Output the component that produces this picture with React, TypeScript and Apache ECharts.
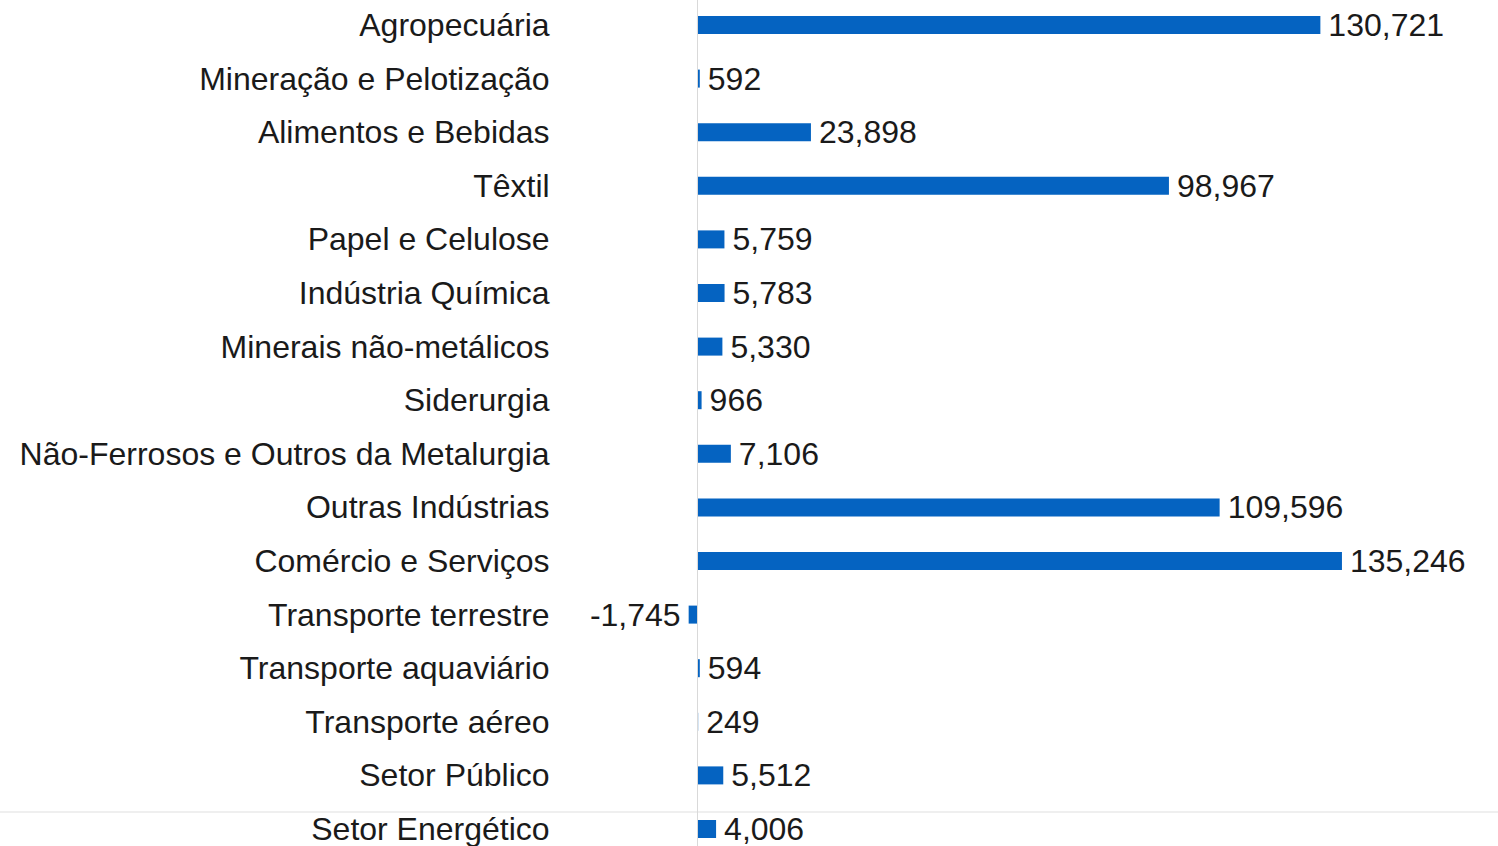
import React, { useEffect, useRef } from "react";
import * as echarts from "echarts";

const categories = [
  "Agropecuária",
  "Mineração e Pelotização",
  "Alimentos e Bebidas",
  "Têxtil",
  "Papel e Celulose",
  "Indústria Química",
  "Minerais não-metálicos",
  "Siderurgia",
  "Não-Ferrosos e Outros da Metalurgia",
  "Outras Indústrias",
  "Comércio e Serviços",
  "Transporte terrestre",
  "Transporte aquaviário",
  "Transporte aéreo",
  "Setor Público",
  "Setor Energético",
];

const values = [
  130721, 592, 23898, 98967, 5759, 5783, 5330, 966, 7106, 109596, 135246, -1745,
  594, 249, 5512, 4006,
];

const FONT = "'Liberation Sans', Arial, sans-serif";

export default function App() {
  const ref = useRef<HTMLDivElement>(null);
  useEffect(() => {
    if (!ref.current) return;
    const chart = echarts.init(ref.current, undefined, { renderer: "svg" });
    const offset = 10;
    chart.setOption({
      animation: false,
      grid: {
        left: 601.6,
        right: 38,
        top: -1.8 + offset,
        height: 53.6 * categories.length,
        containLabel: false,
      },
      xAxis: {
        type: "value",
        min: -20000,
        max: 160000,
        show: false,
        splitLine: { show: false },
      },
      yAxis: {
        type: "category",
        data: categories,
        inverse: true,
        axisLine: { show: false },
        axisTick: { show: false },
        axisLabel: {
          margin: 52,
          fontSize: 32,
          fontFamily: FONT,
          color: "#1a1a1a",
        },
      },
      graphic: [
        {
          type: "line",
          shape: { x1: 0, y1: 812 + offset, x2: 1498, y2: 812 + offset },
          style: { stroke: "#efefef", lineWidth: 2 },
          z: 0,
        },
      ],
      series: [
        {
          type: "bar",
          data: values.map((v) =>
            v < 0 ? { value: v, label: { position: "left" } } : { value: v }
          ),
          barWidth: 18,
          itemStyle: { color: "#0563C1" },
          label: {
            show: true,
            position: "right",
            distance: 8,
            fontSize: 32,
            fontFamily: FONT,
            color: "#1a1a1a",
            formatter: (p: any) => Number(p.value).toLocaleString("en-US"),
          },
          markLine: {
            silent: true,
            symbol: "none",
            label: { show: false },
            lineStyle: { color: "#d9d9d9", width: 1, type: "solid" },
            data: [{ xAxis: 0 }],
          },
        },
      ],
    });
    return () => chart.dispose();
  }, []);
  return (
    <div
      style={{
        position: "fixed",
        left: 0,
        top: 0,
        width: 1498,
        height: 846,
        overflow: "hidden",
        background: "#fff",
      }}
    >
      <div
        ref={ref}
        style={{ position: "absolute", left: 0, top: -10, width: 1498, height: 880 }}
      />
    </div>
  );
}
